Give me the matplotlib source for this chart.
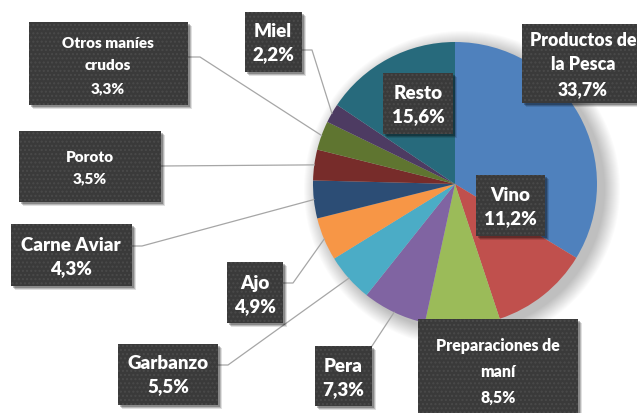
import matplotlib
matplotlib.use("Agg")
import matplotlib.pyplot as plt
from matplotlib.patches import Rectangle, Circle
import numpy as np

# data
labels = ["Productos de\nla Pesca", "Vino", "Preparaciones de\nmaní", "Pera",
          "Garbanzo", "Ajo", "Carne Aviar", "Poroto", "Otros maníes\ncrudos",
          "Miel", "Resto"]
values = [33.7, 11.2, 8.5, 7.3, 5.5, 4.9, 4.3, 3.5, 3.3, 2.2, 15.6]
colors = ["#4F81BD", "#C0504D", "#9BBB59", "#8064A2", "#4BACC6", "#F79646",
          "#2C4D75", "#772C2A", "#5F7530", "#4D3B62", "#276A7C"]

W, H = 637, 414
def fy(y):
    return H - y

# label boxes in pixel coords: x0, y0, x1, y1, text centre, fontsize, linespacing
boxes = [
    (522, 25, 650, 104, (583, 65), 12.8, 1.55),
    (476, 176, 545, 237, (510, 207), 13.5, 1.45),
    (418, 320, 578, 425, (498, 372), 11.4, 1.75),
    (315, 347, 372, 407, (343, 378), 13.5, 1.45),
    (118, 345, 218, 406, (168, 375), 13.5, 1.45),
    (227, 263, 283, 324, (255, 295), 13.5, 1.45),
    (11, 225, 132, 287, (71, 257), 13.5, 1.45),
    (19, 132, 161, 203, (90, 168), 11, 1.7),
    (29, 23, 188, 106, (108, 66), 11, 1.85),
    (245, 13, 302, 73, (273, 43), 13.5, 1.45),
    (383, 74, 453, 135, (418, 105), 13.5, 1.45),
]
# leader line: start on box, elbow point
leaders = [None, None, None, ((372, 347), (372, 347)), ((218, 366), (228, 366)),
           ((283, 284), (293, 284)), ((132, 247), (142, 247)),
           ((161, 167), (161, 167)), ((188, 58), (200, 58)),
           ((302, 51), (312, 51)), None]

fig = plt.figure(figsize=(W / 100, H / 100), dpi=100)
ax = fig.add_axes([0, 0, 1, 1])

cx, cy, r = 455, fy(185), 142

# soft shadow behind the pie
for k in range(16):
    ax.add_patch(Circle((cx + 7, cy - 5), r + 16 - k, color="#000000",
                        alpha=0.014, lw=0, zorder=0))

wedges, _ = ax.pie(values, colors=colors, startangle=90, counterclock=False,
                   center=(cx, cy), radius=r, frame=True,
                   wedgeprops=dict(linewidth=0))
ax.set_xlim(0, W)
ax.set_ylim(0, H)
ax.set_aspect("equal")
ax.axis("off")

for i, (lab, val) in enumerate(zip(labels, values)):
    x0, y0, x1, y1, (tx, ty), fs, ls = boxes[i]
    if leaders[i] is not None:
        w = wedges[i]
        th = np.deg2rad((w.theta1 + w.theta2) / 2)
        px, py = cx + r * np.cos(th), cy + r * np.sin(th)
        (sx, sy), (ex, ey) = leaders[i]
        ax.plot([sx, ex, px], [fy(sy), fy(ey), py], color="#a6a6a6",
                lw=0.9, zorder=2)
    # shadow
    for d, a in [(4, 0.12), (3, 0.18), (2, 0.25)]:
        ax.add_patch(Rectangle((x0 + d, fy(y1) - d), x1 - x0, y1 - y0,
                               facecolor="#000000", alpha=a, lw=0, zorder=3))
    ax.add_patch(Rectangle((x0, fy(y1)), x1 - x0, y1 - y0,
                           facecolor="#3a3a3a", lw=0, zorder=4))
    ax.add_patch(Rectangle((x0, fy(y1)), x1 - x0, y1 - y0, fill=False,
                           hatch="....", edgecolor="#4a4a4a", lw=0, zorder=5))
    txt = lab + "\n" + f"{val:.1f}".replace(".", ",") + "%"
    ax.text(tx, fy(ty), txt, ha="center", va="center", color="white",
            fontsize=fs, fontweight="heavy", family="Lato",
            linespacing=ls, zorder=6)

fig.savefig("out.png", dpi=100)
